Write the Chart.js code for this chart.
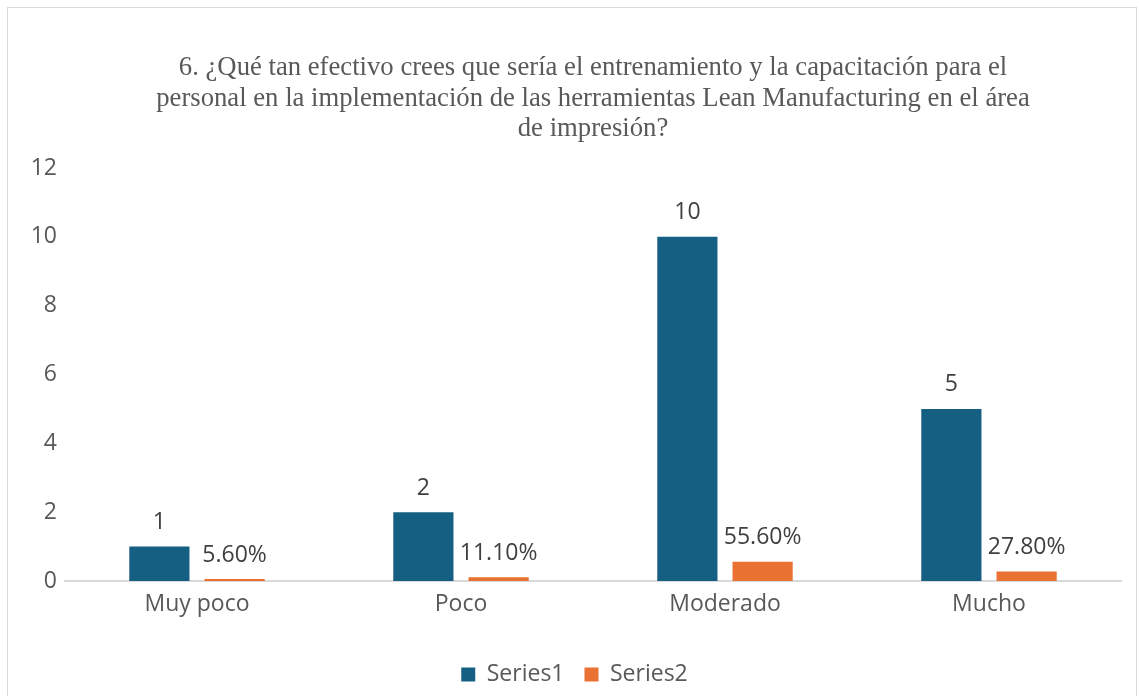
<!DOCTYPE html>
<html>
<head>
<meta charset="utf-8">
<script src="https://cdn.jsdelivr.net/npm/chart.js@4/dist/chart.umd.min.js"></script>
<style>
  html, body { margin: 0; padding: 0; background: #fff; overflow: hidden; }
  #frame { position: absolute; left: 7px; top: 7px; width: 1130px; height: 700px; border: 1.5px solid #d9d9d9; box-sizing: border-box; }
  #wrap { position: absolute; left: 0; top: 0; width: 1139px; height: 696px; }
</style>
</head>
<body>
<div id="frame"></div>
<div id="wrap"><canvas id="chart"></canvas></div>
<script>
// data
const categories = ['Muy poco', 'Poco', 'Moderado', 'Mucho'];
const series1 = [1, 2, 10, 5];
const series2 = [0.056, 0.111, 0.556, 0.278];
const series2Labels = ['5.60%', '11.10%', '55.60%', '27.80%'];
const yTicks = [0, 2, 4, 6, 8, 10, 12];

const titleLines = [
  '6. ¿Qué tan efectivo crees que sería el entrenamiento y la capacitación para el',
  'personal en la implementación de las herramientas Lean Manufacturing en el área',
  'de impresión?'
];

const FONT = "'Open Sans', 'Noto Sans', sans-serif";

// title is drawn by hand, it sits a bit right of the canvas centre
const titleText = {
  id: 'titleText',
  afterDraw(chart) {
    const ctx = chart.ctx;
    ctx.save();
    ctx.font = "26.7px 'Liberation Serif', 'Times New Roman', serif";
    ctx.fillStyle = '#595959';
    ctx.textAlign = 'center';
    ctx.textBaseline = 'middle';
    titleLines.forEach((line, i) => ctx.fillText(line, 593, 68 + i * 30.5));
    ctx.restore();
  }
};

// nudge the legend to the right like the original
const legendShift = {
  id: 'legendShift',
  afterLayout(chart) {
    if (chart.legend) { chart.legend.left += 14; chart.legend.right += 14; }
  }
};

// labels above bars
const barLabels = {
  id: 'barLabels',
  afterDatasetsDraw(chart) {
    const ctx = chart.ctx;
    ctx.save();
    ctx.font = '23px ' + FONT;
    ctx.fillStyle = '#404040';
    ctx.textAlign = 'center';
    ctx.textBaseline = 'middle';
    chart.data.datasets.forEach((ds, i) => {
      chart.getDatasetMeta(i).data.forEach((bar, j) => {
        const txt = i === 0 ? String(series1[j]) : series2Labels[j];
        ctx.fillText(txt, bar.x, bar.y - 24);
      });
    });
    ctx.restore();
  }
};

new Chart(document.getElementById('chart'), {
  type: 'bar',
  data: {
    labels: categories,
    datasets: [
      { label: 'Series1', data: series1, backgroundColor: '#156082' },
      { label: 'Series2', data: series2, backgroundColor: '#E97132' }
    ]
  },
  options: {
    responsive: true,
    maintainAspectRatio: false,
    animation: false,
    categoryPercentage: 0.57,
    barPercentage: 0.8,
    layout: { padding: { left: 0, right: 18, top: 168, bottom: 0 } },
    plugins: {
      title: { display: false },
      legend: {
        position: 'bottom',
        labels: { color: '#595959', font: { family: FONT, size: 23 }, boxWidth: 14, boxHeight: 14, padding: 20 }
      },
      tooltip: { enabled: false }
    },
    scales: {
      x: {
        grid: { display: false, drawTicks: false },
        border: { display: true, color: '#d9d9d9', width: 2 },
        ticks: { color: '#595959', font: { family: FONT, size: 23 }, padding: 10 },
        afterFit(scale) { scale.height = 62; }
      },
      y: {
        min: 0,
        max: 12,
        afterBuildTicks(scale) { scale.ticks = yTicks.map(v => ({ value: v })); },
        grid: { display: false, drawTicks: false },
        border: { display: false },
        ticks: { color: '#595959', font: { family: FONT, size: 23 }, padding: 8 },
        afterFit(scale) { scale.width = 65; }
      }
    }
  },
  plugins: [barLabels, titleText, legendShift]
});
</script>
</body>
</html>
